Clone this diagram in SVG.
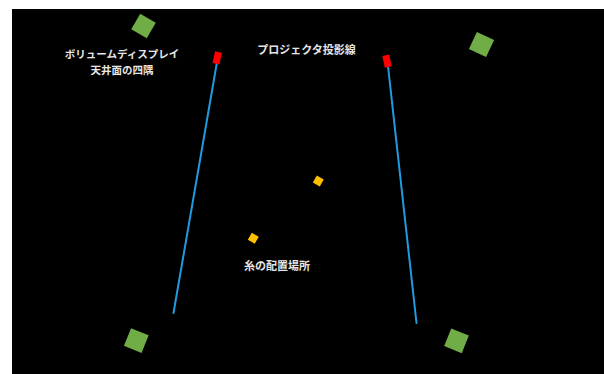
<svg xmlns="http://www.w3.org/2000/svg" width="604" height="374" viewBox="0 0 604 374">
<style>
.lbl{font-family:"Noto Sans CJK JP","Noto Sans",sans-serif;font-size:11px;font-weight:bold;fill:#e6e6e6;text-anchor:middle;dominant-baseline:central}
.sm{font-size:10.5px}
.sq{fill:#70ad47}
.pj{fill:#ff0000}
.th{fill:#ffc000}
.beam{stroke:#1f9be0;stroke-width:2;stroke-linecap:round}
</style>
<rect x="0" y="0" width="604" height="374" fill="#ffffff"/>
<rect x="12" y="9" width="592" height="365" fill="#000000"/>
<g id="corner-tl"><rect class="sq" x="-9" y="-9" width="18" height="18" transform="translate(143.5,26) rotate(30)"/></g>
<g id="corner-tr"><rect class="sq" x="-9.5" y="-9.5" width="19" height="19" transform="translate(481.5,44.5) rotate(25)"/></g>
<g id="corner-bl"><rect class="sq" x="-9.5" y="-9.5" width="19" height="19" transform="translate(136.3,340.6) rotate(22)"/></g>
<g id="corner-br"><rect class="sq" x="-9.5" y="-9.5" width="19" height="19" transform="translate(456.5,340.8) rotate(22)"/></g>
<g id="connectors">
<line class="beam" x1="217" y1="62" x2="173.5" y2="313"/>
<line class="beam" x1="388" y1="66" x2="416.5" y2="323"/>
</g>
<g id="projector-l"><rect class="pj" x="-3.5" y="-6" width="7" height="12" transform="translate(217.2,57.9) rotate(12)"/></g>
<g id="projector-r"><rect class="pj" x="-3.5" y="-6" width="7" height="12" transform="translate(387,61.2) rotate(-12)"/></g>
<g id="thread-1"><rect class="th" x="-4" y="-4" width="8" height="8" transform="translate(318.3,181) rotate(30)"/></g>
<g id="thread-2"><rect class="th" x="-4" y="-4" width="8" height="8" transform="translate(253.3,238.3) rotate(30)"/></g>
<g id="label-display">
<text class="lbl sm" x="122" y="53"><tspan x="122">ボリュームディスプレイ</tspan><tspan x="122" dy="15.5">天井面の四隅</tspan></text>
</g>
<g id="label-projector"><text class="lbl" x="306.5" y="48.5">プロジェクタ投影線</text></g>
<g id="label-thread"><text class="lbl" x="277" y="265">糸の配置場所</text></g>
</svg>
